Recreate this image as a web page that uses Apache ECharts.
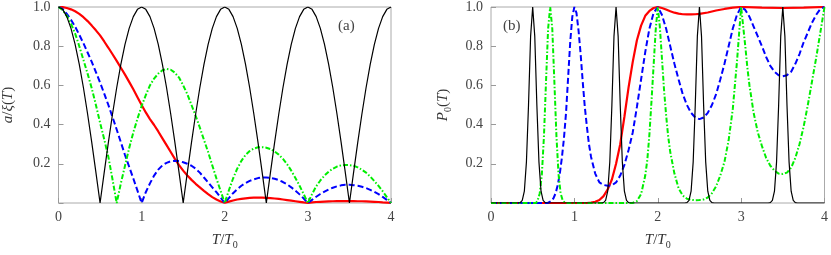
<!DOCTYPE html>
<html>
<head>
<meta charset="utf-8">
<script src="https://cdn.jsdelivr.net/npm/echarts@6/dist/echarts.min.js"></script>
<style>html,body{margin:0;padding:0;background:#fff}#c{width:831px;height:255px}</style>
</head>
<body>
<div id="c"></div>
<script>
// ---------- data ----------
const xTicks = [0, 1, 2, 3, 4];
const yTicks = [0.2, 0.4, 0.6, 0.8, 1.0];

// sampling grid of panel (a)
const tLeft = [0,0.05,0.1,0.15,0.2,0.25,0.3,0.35,0.4,0.45,0.5,0.55,0.6,0.65,0.7,0.75,0.8,0.85,0.9,0.95,
  1,1.05,1.1,1.15,1.2,1.25,1.3,1.35,1.4,1.45,1.5,1.55,1.6,1.65,1.7,1.75,1.8,1.85,1.9,1.95,
  2,2.05,2.1,2.15,2.2,2.25,2.3,2.35,2.4,2.45,2.5,2.55,2.6,2.65,2.7,2.75,2.8,2.85,2.9,2.95,
  3,3.05,3.1,3.15,3.2,3.25,3.3,3.35,3.4,3.45,3.5,3.55,3.6,3.65,3.7,3.75,3.8,3.85,3.9,3.95,4];

// panel (a): a/xi(T)
const leftBlack = [1,0.988,0.951,0.891,0.809,0.707,0.588,0.454,0.309,0.156,0,0.156,0.309,0.454,0.588,0.707,0.809,0.891,0.951,0.988,
  1,0.988,0.951,0.891,0.809,0.707,0.588,0.454,0.309,0.156,0,0.156,0.309,0.454,0.588,0.707,0.809,0.891,0.951,0.988,
  1,0.988,0.951,0.891,0.809,0.707,0.588,0.454,0.309,0.156,0,0.156,0.309,0.454,0.588,0.707,0.809,0.891,0.951,0.988,
  1,0.988,0.951,0.891,0.809,0.707,0.588,0.454,0.309,0.156,0,0.156,0.309,0.454,0.588,0.707,0.809,0.891,0.951,0.988,1];
const leftRed = [1,0.999,0.995,0.988,0.978,0.965,0.948,0.928,0.905,0.881,0.855,0.824,0.792,0.759,0.725,0.69,0.655,0.618,0.58,0.54,
  0.5,0.462,0.428,0.398,0.365,0.33,0.295,0.26,0.225,0.193,0.165,0.14,0.118,0.098,0.08,0.062,0.045,0.03,0.018,0.008,
  0.001,0.007,0.013,0.018,0.021,0.024,0.026,0.027,0.027,0.027,0.026,0.025,0.023,0.021,0.018,0.015,0.012,0.009,0.006,0.003,
  0.001,0.003,0.005,0.006,0.007,0.008,0.009,0.01,0.01,0.01,0.01,0.01,0.009,0.009,0.008,0.007,0.006,0.005,0.003,0.002,0.001];
const leftBlue = [1,0.99,0.965,0.935,0.9,0.858,0.815,0.768,0.72,0.668,0.615,0.558,0.5,0.438,0.375,0.31,0.245,0.185,0.125,0.063,
  0,0.055,0.1,0.14,0.17,0.192,0.205,0.213,0.216,0.214,0.208,0.2,0.19,0.175,0.155,0.13,0.105,0.08,0.055,0.028,
  0,0.025,0.05,0.07,0.088,0.102,0.113,0.121,0.127,0.13,0.13,0.128,0.124,0.117,0.107,0.095,0.08,0.063,0.044,0.023,
  0,0.016,0.032,0.046,0.058,0.069,0.078,0.085,0.09,0.093,0.093,0.091,0.088,0.083,0.076,0.067,0.057,0.045,0.031,0.016,0];
const leftGreen = [1,0.985,0.955,0.915,0.865,0.8,0.73,0.66,0.585,0.5,0.41,0.325,0.235,0.12,0,0.1,0.19,0.28,0.36,0.43,
  0.495,0.55,0.6,0.635,0.66,0.677,0.684,0.68,0.665,0.64,0.6,0.555,0.5,0.445,0.385,0.322,0.26,0.192,0.125,0.062,
  0,0.065,0.125,0.175,0.215,0.245,0.265,0.278,0.284,0.285,0.282,0.275,0.263,0.247,0.225,0.198,0.165,0.128,0.088,0.045,
  0,0.045,0.085,0.115,0.14,0.16,0.175,0.186,0.192,0.194,0.193,0.19,0.182,0.17,0.155,0.135,0.112,0.087,0.06,0.03,0];

// panel (b): P0(T), [T, P0] pairs
const rightBlack = [[0,0],[0.325,0],[0.35,0.002],[0.375,0.013],[0.4,0.06],[0.425,0.21],[0.45,0.5],[0.475,0.85],[0.5,1],[0.525,0.85],[0.55,0.5],[0.575,0.21],[0.6,0.06],[0.625,0.013],[0.65,0.002],[0.675,0],
  [1.325,0],[1.35,0.002],[1.375,0.013],[1.4,0.06],[1.425,0.21],[1.45,0.5],[1.475,0.85],[1.5,1],[1.525,0.85],[1.55,0.5],[1.575,0.21],[1.6,0.06],[1.625,0.013],[1.65,0.002],[1.675,0],
  [2.325,0],[2.35,0.002],[2.375,0.013],[2.4,0.06],[2.425,0.21],[2.45,0.5],[2.475,0.85],[2.5,1],[2.525,0.85],[2.55,0.5],[2.575,0.21],[2.6,0.06],[2.625,0.013],[2.65,0.002],[2.675,0],
  [3.325,0],[3.35,0.002],[3.375,0.013],[3.4,0.06],[3.425,0.21],[3.45,0.5],[3.475,0.85],[3.5,1],[3.525,0.85],[3.55,0.5],[3.575,0.21],[3.6,0.06],[3.625,0.013],[3.65,0.002],[3.675,0],[4,0]];
const rightRed = [[0,0],[1.15,0],[1.2,0.002],[1.25,0.006],[1.3,0.015],[1.35,0.035],[1.4,0.07],[1.45,0.12],[1.5,0.2],[1.55,0.3],[1.6,0.44],[1.65,0.59],[1.7,0.72],[1.75,0.83],[1.8,0.905],[1.85,0.955],[1.9,0.98],[1.95,0.995],
  [2,1],[2.05,0.995],[2.1,0.987],[2.15,0.978],[2.2,0.971],[2.25,0.966],[2.3,0.963],[2.35,0.962],[2.4,0.962],[2.45,0.963],[2.5,0.965],[2.6,0.972],[2.7,0.982],[2.8,0.99],[2.9,0.997],
  [3,1],[3.25,0.997],[3.5,0.995],[3.75,0.997],[4,1]];
const rightBlue = [[0,0],[0.68,0],[0.7,0.003],[0.725,0.01],[0.75,0.025],[0.775,0.05],[0.8,0.09],[0.825,0.15],[0.85,0.23],[0.875,0.33],[0.9,0.46],[0.925,0.64],[0.95,0.82],[0.975,0.95],
  [1,1],[1.025,0.97],[1.05,0.88],[1.075,0.76],[1.1,0.62],[1.125,0.49],[1.15,0.39],[1.175,0.3],[1.2,0.235],[1.25,0.15],[1.3,0.105],[1.35,0.092],[1.4,0.088],[1.45,0.09],[1.5,0.105],[1.55,0.14],[1.6,0.195],[1.65,0.27],[1.7,0.36],[1.75,0.49],[1.8,0.63],[1.85,0.77],[1.9,0.89],[1.95,0.97],
  [2,1],[2.05,0.96],[2.1,0.89],[2.15,0.8],[2.2,0.71],[2.25,0.63],[2.3,0.555],[2.35,0.5],[2.4,0.46],[2.45,0.436],[2.5,0.428],[2.55,0.436],[2.6,0.46],[2.65,0.5],[2.7,0.555],[2.75,0.63],[2.8,0.71],[2.85,0.8],[2.9,0.89],[2.95,0.96],
  [3,1],[3.05,0.985],[3.1,0.95],[3.15,0.9],[3.2,0.85],[3.25,0.8],[3.3,0.745],[3.35,0.7],[3.4,0.67],[3.45,0.652],[3.5,0.647],[3.55,0.652],[3.6,0.67],[3.65,0.71],[3.7,0.76],[3.75,0.82],[3.8,0.87],[3.85,0.92],[3.9,0.96],[3.95,0.99],[4,1]];
const rightGreen = [[0,0],[0.54,0],[0.56,0.013],[0.585,0.05],[0.61,0.146],[0.635,0.34],[0.66,0.62],[0.685,0.89],[0.71,1],[0.735,0.89],[0.76,0.62],[0.785,0.34],[0.81,0.146],[0.835,0.05],[0.86,0.013],[0.885,0.002],[0.91,0],
  [1.7,0],[1.75,0.01],[1.8,0.045],[1.85,0.14],[1.875,0.22],[1.9,0.35],[1.925,0.52],[1.95,0.7],[1.975,0.88],
  [2,1],[2.025,0.9],[2.05,0.74],[2.075,0.58],[2.1,0.45],[2.125,0.34],[2.15,0.26],[2.2,0.15],[2.25,0.075],[2.3,0.038],[2.35,0.022],[2.4,0.016],[2.45,0.014],[2.5,0.015],[2.55,0.018],[2.6,0.028],[2.65,0.05],[2.7,0.085],[2.75,0.14],[2.8,0.21],[2.85,0.32],[2.9,0.48],[2.95,0.72],[2.975,0.86],
  [3,1],[3.025,0.9],[3.05,0.8],[3.075,0.69],[3.1,0.6],[3.15,0.46],[3.2,0.36],[3.25,0.29],[3.3,0.23],[3.35,0.19],[3.4,0.165],[3.45,0.15],[3.5,0.148],[3.55,0.155],[3.6,0.18],[3.65,0.23],[3.7,0.3],[3.75,0.39],[3.8,0.5],[3.85,0.62],[3.9,0.74],[3.95,0.87],[4,1]];

// ---------- chart ----------
const FONT = "'Liberation Serif','DejaVu Serif',serif";
const pair = (arr) => tLeft.map((t, i) => [t, arr[i]]);
const rich = {
  i: {fontFamily: FONT, fontStyle: 'italic', fontSize: 15, color: '#333', lineHeight: 20, verticalAlign: 'middle'},
  n: {fontFamily: FONT, fontSize: 15, color: '#333', lineHeight: 20, verticalAlign: 'middle'},
  s: {fontFamily: FONT, fontSize: 10, color: '#333', lineHeight: 20, verticalAlign: 'bottom'}
};
function xAx(g) {
  return {
    type: 'value', gridIndex: g, min: xTicks[0], max: xTicks[xTicks.length - 1], interval: 1,
    axisLine: {show: false},
    axisTick: {show: true, inside: true, length: 5, lineStyle: {color: '#999'}},
    axisLabel: {margin: 7, fontFamily: FONT, fontSize: 14, color: '#444'},
    splitLine: {show: false},
    name: '{i|T}{n|/}{i|T}{s|0}', nameLocation: 'middle', nameGap: 27,
    nameTextStyle: {rich: rich}
  };
}
function yAx(g, name, gap) {
  return {
    type: 'value', gridIndex: g, min: 0, max: yTicks[yTicks.length - 1], interval: 0.2,
    axisLine: {show: false},
    axisTick: {show: true, inside: true, length: 5, lineStyle: {color: '#999'}},
    axisLabel: {margin: 8, fontFamily: FONT, fontSize: 14, color: '#444',
      formatter: v => (yTicks.some(t => Math.abs(t - v) < 1e-9) ? v.toFixed(1) : '')},
    splitLine: {show: false},
    name: name, nameLocation: 'middle', nameGap: gap, nameRotate: 90,
    nameTextStyle: {rich: rich}
  };
}
function ser(g, data, color, width, type) {
  return {
    type: 'line', xAxisIndex: g, yAxisIndex: g, data: data, showSymbol: false, symbol: 'none',
    lineStyle: {color: color, width: width, type: type || 'solid'}, clip: true, silent: true
  };
}
const chart = echarts.init(document.getElementById('c'), null, {renderer: 'canvas'});
chart.setOption({
  animation: false,
  backgroundColor: '#fff',
  title: [
    {text: '(a)', left: 338, top: 19, padding: 0, textStyle: {fontFamily: FONT, fontSize: 15, fontWeight: 'normal', color: '#444'}},
    {text: '(b)', left: 503, top: 19, padding: 0, textStyle: {fontFamily: FONT, fontSize: 15, fontWeight: 'normal', color: '#444'}}
  ],
  grid: [
    {left: 57, top: 5, width: 334, height: 208, show: true, borderColor: '#aaa', borderWidth: 1, backgroundColor: 'transparent'},
    {left: 491, top: 5, width: 336, height: 208, show: true, borderColor: '#aaa', borderWidth: 1, backgroundColor: 'transparent'}
  ],
  xAxis: [xAx(0), xAx(1)],
  yAxis: [yAx(0, '{i|a}{n|/}{i|ξ}{n|(}{i|T}{n|)}', 40), yAx(1, '{i|P}{s|0}{n|(}{i|T}{n|)}', 38)],
  series: [
    ser(0, pair(leftRed), '#ff0000', 2.2),
    ser(0, pair(leftBlue), '#0000ff', 2, [6, 3]),
    ser(0, pair(leftGreen), '#00ee00', 2, [5, 2, 1.5, 2]),
    ser(0, pair(leftBlack), '#000000', 1.2),
    ser(1, rightRed, '#ff0000', 2.2),
    ser(1, rightBlue, '#0000ff', 2, [6, 3]),
    ser(1, rightGreen, '#00ee00', 2, [5, 2, 1.5, 2]),
    ser(1, rightBlack, '#000000', 1.2)
  ]
});
</script>
</body>
</html>
